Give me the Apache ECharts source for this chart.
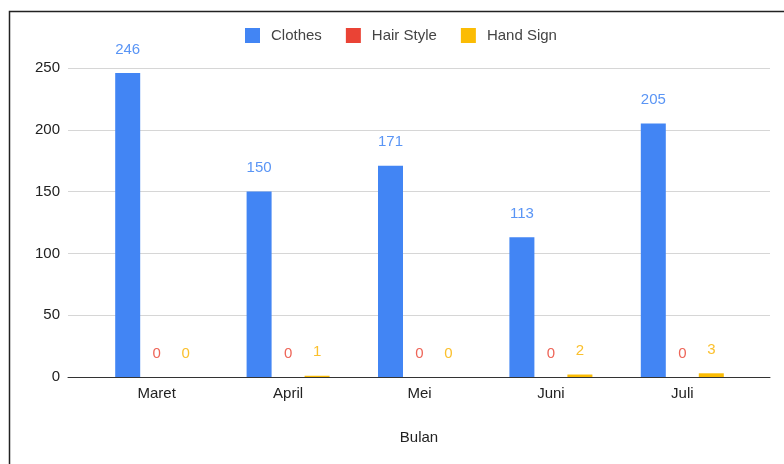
<!DOCTYPE html>
<html>
<head>
<meta charset="utf-8">
<script src="https://cdn.jsdelivr.net/npm/echarts@6/dist/echarts.min.js"></script>
<style>
  html, body { margin: 0; padding: 0; background: #fff; }
  #main { width: 784px; height: 464px; }
</style>
</head>
<body>
<div id="main"></div>
<script>
var months = ['Maret', 'April', 'Mei', 'Juni', 'Juli'];
var clothes = [246, 150, 171, 113, 205];
var hairStyle = [0, 0, 0, 0, 0];
var handSign = [0, 1, 0, 2, 3];
var yTicks = [0, 50, 100, 150, 200, 250];

var font = '"Liberation Sans", Arial, sans-serif';
var chartDom = document.getElementById('main');
var myChart = echarts.init(chartDom);

function barSeries(name, data, color, labelColor) {
  return {
    name: name,
    type: 'bar',
    xAxisIndex: 1,
    yAxisIndex: 1,
    data: data,
    barWidth: 25,
    barGap: '16%',
    itemStyle: { color: color },
    label: {
      show: true,
      position: 'top',
      distance: 16,
      color: labelColor,
      fontFamily: font,
      fontSize: 15
    }
  };
}

var option = {
  animation: false,
  backgroundColor: '#fff',
  graphic: [{
    type: 'rect',
    shape: { x: 9.5, y: 11.5, width: 800, height: 470 },
    style: { fill: null, stroke: '#222', lineWidth: 1.5 },
    silent: true
  }],
  legend: {
    top: 23,
    left: 240,
    itemWidth: 15,
    itemHeight: 15,
    itemGap: 24,
    icon: 'rect',
    textStyle: { color: '#444', fontFamily: font, fontSize: 15, padding: [0, 0, 0, 6] },
    data: ['Clothes', 'Hair Style', 'Hand Sign']
  },
  grid: [
    { left: 68, right: 14, top: 68, height: 309 },
    { left: 91, right: 36, top: 68, height: 309 }
  ],
  xAxis: [
    {
      type: 'category',
      gridIndex: 0,
      data: months,
      axisLine: { lineStyle: { color: '#333', width: 1 } },
      axisTick: { show: false },
      axisLabel: { show: false },
      name: 'Bulan',
      nameLocation: 'middle',
      nameGap: 53,
      nameTextStyle: { color: '#222', fontFamily: font, fontSize: 15 }
    },
    {
      type: 'category',
      gridIndex: 1,
      data: months,
      axisLine: { show: false },
      axisTick: { show: false },
      axisLabel: { color: '#222', fontFamily: font, fontSize: 15, margin: 9 }
    }
  ],
  yAxis: [
    {
      type: 'value',
      gridIndex: 0,
      min: yTicks[0],
      max: yTicks[yTicks.length - 1],
      interval: 50,
      axisLine: { show: false },
      axisTick: { show: false },
      axisLabel: { color: '#222', fontFamily: font, fontSize: 15, margin: 8 },
      splitLine: { lineStyle: { color: '#d6d6d6', width: 1 } }
    },
    {
      type: 'value',
      gridIndex: 1,
      min: yTicks[0],
      max: yTicks[yTicks.length - 1],
      interval: 50,
      show: false,
      splitLine: { show: false }
    }
  ],
  series: [
    barSeries('Clothes', clothes, '#4285F4', '#5a95f5'),
    barSeries('Hair Style', hairStyle, '#EA4335', '#ee6558'),
    barSeries('Hand Sign', handSign, '#FBBC04', '#fbc02d')
  ]
};

option && myChart.setOption(option);
</script>
</body>
</html>
